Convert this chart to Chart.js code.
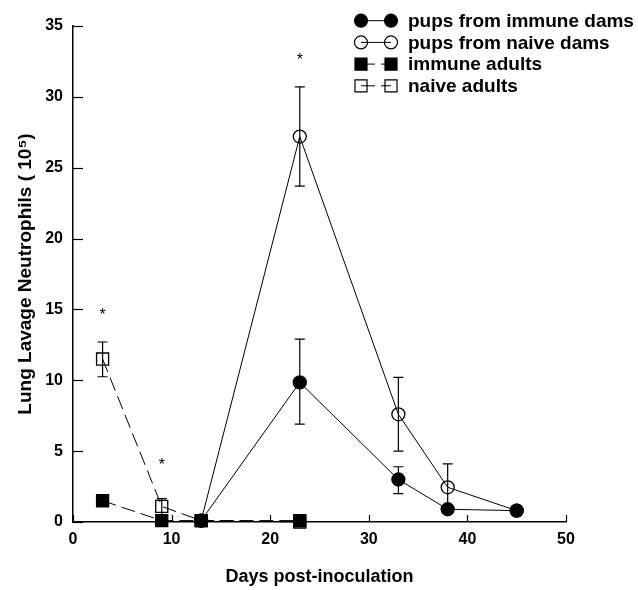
<!DOCTYPE html>
<html>
<head>
<meta charset="utf-8">
<script src="https://cdn.jsdelivr.net/npm/chart.js@4.4.0/dist/chart.umd.min.js"></script>
<style>
  body { margin: 0; background: #fff; }
</style>
</head>
<body>
<canvas id="chart" width="638" height="590"></canvas>
<script>
// Data
const daysPups = [13, 23, 33, 38, 45];
const pupsImmune = [0.1, 9.85, 3.0, 0.9, 0.8];
const pupsImmuneHi = [null, 12.9, 3.9, null, null];
const pupsImmuneLo = [null, 6.9, 2.0, null, null];
const pupsNaive = [0.1, 27.2, 7.6, 2.45, 0.8];
const pupsNaiveHi = [null, 30.7, 10.2, 4.1, null];
const pupsNaiveLo = [null, 23.7, 5.0, 0.8, null];

const daysAdults = [3, 9, 13, 23];
const immuneAdults = [1.5, 0.1, 0.1, 0.1];
const naiveAdults = [11.5, 1.1, 0.1, 0.0];
const naiveAdultsHi = [12.7, 1.65, null, null];
const naiveAdultsLo = [10.25, 0.5, null, null];

// significance marks
const starDays = [3, 9, 23];
const starValues = [14.8, 4.2, 32.8];

const seriesLabels = ['pups from immune dams', 'pups from naive dams', 'immune adults', 'naive adults'];

const FONT = '"Liberation Sans", Arial, sans-serif';

function toPoints(xs, ys) {
  return xs.map((x, i) => ({ x: x, y: ys[i] }));
}

// error bars, asterisks, inward ticks and legend
const extras = {
  id: 'extras',
  beforeDatasetsDraw(chart) {
    const ctx = chart.ctx;
    const xs = chart.scales.x, ys = chart.scales.y;
    ctx.save();
    ctx.strokeStyle = '#000';
    ctx.lineWidth = 1.2;
    chart.data.datasets.forEach(ds => {
      if (!ds.errHi) return;
      ds.data.forEach((p, i) => {
        const px = xs.getPixelForValue(p.x);
        const py = ys.getPixelForValue(p.y);
        [ds.errHi[i], ds.errLo[i]].forEach(v => {
          if (v === null) return;
          const vy = ys.getPixelForValue(v);
          ctx.beginPath();
          ctx.moveTo(px, py);
          ctx.lineTo(px, vy);
          ctx.moveTo(px - 5, vy);
          ctx.lineTo(px + 5, vy);
          ctx.stroke();
        });
      });
    });
    ctx.restore();
  },
  afterDraw(chart) {
    const ctx = chart.ctx;
    const xs = chart.scales.x, ys = chart.scales.y;
    const area = chart.chartArea;
    ctx.save();
    ctx.strokeStyle = '#000';
    ctx.lineWidth = 1.2;
    // inward ticks
    ys.ticks.forEach(t => {
      const y = Math.round(ys.getPixelForValue(t.value)) + 0.5;
      ctx.beginPath();
      ctx.moveTo(area.left, y);
      ctx.lineTo(area.left + 10, y);
      ctx.stroke();
    });
    xs.ticks.forEach(t => {
      const x = Math.round(xs.getPixelForValue(t.value)) + 0.5;
      ctx.beginPath();
      ctx.moveTo(x, area.bottom);
      ctx.lineTo(x, area.bottom - 7);
      ctx.stroke();
    });

    // asterisks
    ctx.fillStyle = '#000';
    ctx.font = '16px ' + FONT;
    ctx.textAlign = 'center';
    ctx.textBaseline = 'middle';
    starDays.forEach((d, i) => {
      ctx.fillText('*', xs.getPixelForValue(d), ys.getPixelForValue(starValues[i]) + 3);
    });

    // legend
    ctx.font = 'bold 19px ' + FONT;
    ctx.textAlign = 'left';
    chart.data.datasets.forEach((ds, i) => {
      const y = 20.7 + i * 21.7;
      const x0 = 361, x1 = 391;
      ctx.save();
      ctx.strokeStyle = '#000';
      ctx.lineWidth = 1;
      ctx.setLineDash(ds.borderDash || []);
      ctx.beginPath();
      ctx.moveTo(x0, y);
      ctx.lineTo(x1, y);
      ctx.stroke();
      ctx.restore();
      [x0, x1].forEach(x => {
        ctx.save();
        ctx.fillStyle = ds.pointBackgroundColor;
        ctx.strokeStyle = '#000';
        Chart.helpers.drawPoint(ctx, {
          pointStyle: ds.pointStyle,
          radius: ds.pointStyle === 'rect' ? 8.5 : 6.5,
          borderWidth: ds.pointBorderWidth
        }, x, y);
        ctx.restore();
      });
      ctx.fillStyle = '#000';
      ctx.fillText(seriesLabels[i], 408, y + 1);
    });
    ctx.restore();
  }
};

function series(label, xs, ys, style, filled, dash, hi, lo) {
  return {
    label: label,
    data: toPoints(xs, ys),
    showLine: true,
    borderColor: '#000',
    borderWidth: 1,
    borderDash: dash,
    pointStyle: style,
    pointRadius: style === 'rect' ? 8.5 : 6.5,
    pointHoverRadius: style === 'rect' ? 8.5 : 6.5,
    pointBackgroundColor: filled ? '#000' : 'rgba(0,0,0,0)',
    pointBorderColor: '#000',
    pointBorderWidth: 1.3,
    clip: false,
    errHi: hi,
    errLo: lo
  };
}

const chart = new Chart(document.getElementById('chart').getContext('2d'), {
  type: 'scatter',
  data: {
    datasets: [
      series(seriesLabels[0], daysPups, pupsImmune, 'circle', true, [], pupsImmuneHi, pupsImmuneLo),
      series(seriesLabels[1], daysPups, pupsNaive, 'circle', false, [], pupsNaiveHi, pupsNaiveLo),
      series(seriesLabels[2], daysAdults, immuneAdults, 'rect', true, [14, 6], null, null),
      series(seriesLabels[3], daysAdults, naiveAdults, 'rect', false, [14, 6], naiveAdultsHi, naiveAdultsLo)
    ]
  },
  options: {
    responsive: false,
    animation: false,
    layout: { padding: { left: 0, right: 72, top: 26, bottom: 0 } },
    plugins: { legend: { display: false }, tooltip: { enabled: false } },
    scales: {
      x: {
        type: 'linear',
        min: 0, max: 50,
        ticks: { stepSize: 10, color: '#000', padding: 8, font: { family: FONT, size: 16, weight: 'bold' } },
        grid: { display: false, drawTicks: false },
        border: { display: true, color: '#000', width: 1.5 },
        title: { display: true, text: 'Days post-inoculation', color: '#000', padding: { top: 0, bottom: 2 },
                 font: { family: FONT, size: 18, weight: 'bold' } },
        afterFit(scale) { scale.height = 68; }
      },
      y: {
        type: 'linear',
        min: 0, max: 35,
        ticks: { stepSize: 5, color: '#000', padding: 10, font: { family: FONT, size: 16, weight: 'bold' } },
        grid: { display: false, drawTicks: false },
        border: { display: true, color: '#000', width: 1.5 },
        title: { display: true, text: 'Lung Lavage Neutrophils ( 10\u2075)', color: '#000', padding: { top: 14, bottom: 0 },
                 font: { family: FONT, size: 19, weight: 'bold' } },
        afterFit(scale) { scale.width = 73; }
      }
    }
  },
  plugins: [extras]
});
</script>
</body>
</html>
